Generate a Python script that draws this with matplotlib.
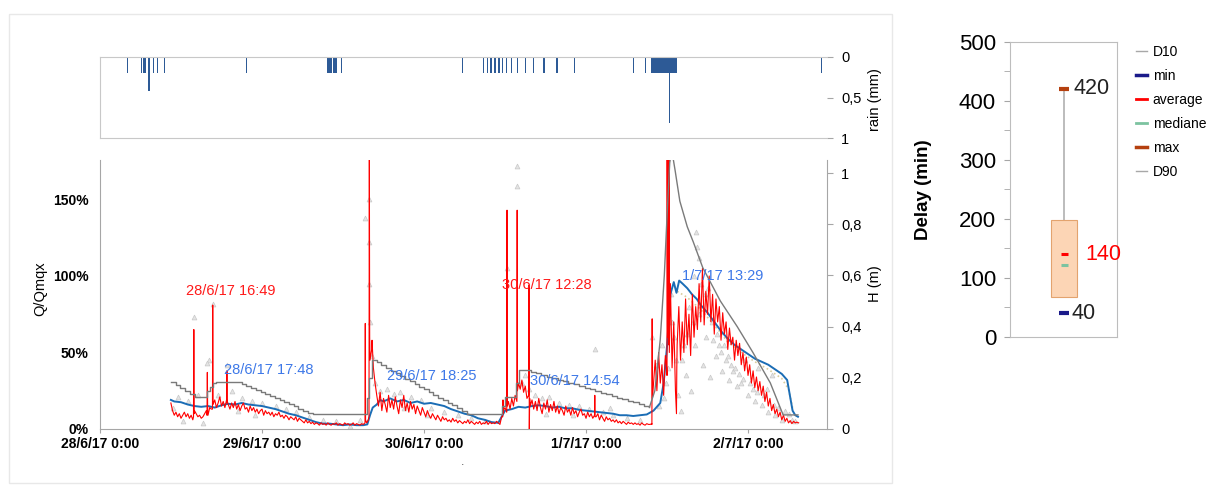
import matplotlib
matplotlib.use('Agg')
import matplotlib.pyplot as plt
import numpy as np
from matplotlib.lines import Line2D
from matplotlib.patches import Rectangle

plt.rcParams['font.family'] = ['Liberation Sans', 'DejaVu Sans']

# ---------------- DATA (time in hours from 28/6/17 0:00) ----------------
day_ticks = [0, 24, 48, 72, 96]
day_labels = ['28/6/17 0:00', '29/6/17 0:00', '30/6/17 0:00', '1/7/17 0:00', '2/7/17 0:00']

# rain (mm)
rain_t = [4.04, 6.18, 6.41, 6.67, 7.26, 7.9, 8.55, 9.59, 21.73, 33.8, 34.05, 34.3, 34.55, 34.8,
          35.05, 35.8, 53.67, 56.79, 57.38, 57.93, 58.52, 59.11, 59.66, 60.19, 60.99, 61.82, 63.07,
          64.19, 65.78, 67.7, 70.27, 79.0, 80.84, 81.8, 82.0, 82.2, 82.4, 82.6, 82.8, 83.0, 83.2,
          83.4, 83.6, 83.8, 84.0, 84.2, 84.34, 84.6, 84.8, 85.0, 85.2, 85.4, 106.9]
rain_v = [0.2, 0.2, 0.2, 0.2, 0.42, 0.2, 0.2, 0.2, 0.2, 0.2, 0.2, 0.2, 0.2, 0.2,
          0.2, 0.2, 0.2, 0.2, 0.2, 0.2, 0.2, 0.2, 0.2, 0.2, 0.2, 0.2, 0.2,
          0.2, 0.2, 0.2, 0.2, 0.2, 0.2, 0.2, 0.2, 0.2, 0.2, 0.2, 0.2, 0.2, 0.2,
          0.2, 0.2, 0.2, 0.2, 0.2, 0.82, 0.2, 0.2, 0.2, 0.2, 0.2, 0.2]

# red Q/Qmqx (%) on a quarter-hour grid from 10.5 h to 103.5 h
red_start, red_step = 10.5, 0.25
red_base = [17, 12, 9, 11, 8, 10, 7, 9, 11, 8, 10, 7,
            9, 6, 12, 10, 8, 9, 7, 8, 10, 12, 9, 14,
            13, 16, 19, 14, 17, 21, 15, 18, 14, 19, 16, 13,
            17, 14, 18, 13, 16, 12, 15, 17, 13, 14, 11, 15,
            12, 14, 11, 13, 10, 12, 13, 9, 12, 10, 11, 9,
            11, 8, 10, 9, 11, 8, 9, 7, 9, 8, 6, 8,
            7, 6, 8, 5, 7, 6, 5, 4, 6, 4, 5, 3.5,
            4.5, 3, 4, 3.5, 2.5, 4, 3, 3.5, 2.5, 4, 3, 2.5,
            3.5, 3, 4, 2.5, 3.5, 3, 2.5, 4, 3, 3.5, 2.5, 3,
            4, 2.5, 3.5, 3, 2.5, 3.5, 3, 4, 4, 6, 45, 52,
            40, 30, 22, 15, 24, 12, 20, 16, 11, 22, 14, 19,
            13, 21, 15, 10, 19, 14, 22, 12, 17, 11, 18, 13,
            16, 10, 15, 12, 9, 14, 11, 8, 12, 9, 7, 10,
            8, 6, 9, 7, 5, 8, 6, 7, 5, 6, 4.5, 7,
            5, 6, 4, 5.5, 4.5, 3.5, 5, 4, 6, 3.5, 5, 4,
            3, 4.5, 3.5, 5, 3, 4, 3.5, 5, 3, 4.5, 3.5, 4,
            3.5, 5, 4, 3, 8, 12, 14, 11, 18, 13, 20, 15,
            22, 18, 30, 26, 32, 24, 28, 20, 22, 15, 19, 13,
            18, 12, 20, 14, 10, 17, 13, 19, 11, 16, 12, 18,
            11, 15, 10, 14, 12, 9, 15, 11, 13, 9, 14, 10,
            12, 8, 11, 13, 9, 10, 7, 11, 8, 10, 7, 9,
            8, 10, 6, 9, 7, 5, 8, 6, 7, 5, 6, 4.5,
            6, 4, 5, 3.5, 5, 4, 3, 4.5, 3.5, 4, 3, 4,
            3, 3.5, 2.5, 4, 3, 2.5, 3.5, 3, 3, 3.5, 30, 45,
            25, 50, 30, 42, 22, 48, 35, 60, 95, 40, 70, 25,
            55, 80, 45, 70, 50, 85, 55, 75, 48, 88, 60, 80,
            65, 95, 70, 105, 68, 90, 75, 100, 70, 88, 62, 85,
            70, 80, 58, 76, 62, 70, 52, 66, 55, 60, 45, 58,
            48, 56, 42, 50, 38, 47, 35, 42, 30, 38, 27, 34,
            25, 31, 22, 28, 18, 24, 15, 20, 12, 16, 10, 13,
            8, 11, 6, 9, 5, 7, 4, 5.5, 3.5, 5, 4, 4.5,
            4]
# red narrow peaks
red_spike_t = [13.85, 13.9, 13.95, 15.85, 15.9, 15.95, 16.66, 16.7, 16.74, 18.76, 18.8, 18.84,
               39.26, 39.3, 39.34, 39.85, 39.9, 39.95, 40.3, 59.66, 59.7, 59.74, 60.26, 60.3, 60.34,
               61.76, 61.8, 61.84, 63.55, 63.6, 63.65, 73.26, 73.3, 73.34, 81.76, 81.8, 81.84,
               83.95, 84.02, 84.08, 84.26, 84.3, 84.34, 85.4, 85.45]
red_spike_v = [8, 65, 10, 9, 37, 12, 13, 81, 16, 17, 38, 18,
               4, 69, 6, 8, 185, 60, 58, 8, 19, 10, 12, 143, 15,
               18, 143, 25, 94, 0, 20, 9, 22, 8, 3, 72, 20,
               40, 185, 60, 55, 185, 50, 10, 40]

# blue Q/Qmqx (%)
blue_t = [10.5, 11, 12, 13, 14, 15, 16, 17, 18, 19, 20, 21, 22, 23, 24, 25, 26, 27, 28, 29, 30, 31,
          32, 33, 34, 35, 36, 37, 38, 39, 39.6, 40, 40.4, 41, 41.5, 42, 43, 44, 45, 46, 47, 48, 49,
          50, 51, 52, 53, 54, 55, 56, 57, 58, 59, 59.5, 60, 61, 62, 63, 64, 65, 66, 67, 68, 69, 70,
          71, 72, 73, 74, 75, 76, 77, 78, 79, 80, 81, 82, 83, 83.5, 84, 84.5, 85, 85.4, 85.8, 86.3,
          87, 87.7, 88.4, 89, 90, 91, 92, 93, 94, 95, 96, 97, 98, 99, 100, 101, 101.8, 102.2,
          102.6, 103, 103.4]
blue_v = [19, 18, 17.5, 16, 15, 14.5, 15, 14, 15.5, 16.5, 16, 17, 16, 15.5, 15, 14, 13, 11.5, 10, 9,
          7.5, 6, 4.5, 3.5, 3.5, 3, 2.5, 3, 2.5, 2.5, 3, 9, 14, 16, 19, 18, 20, 18, 19, 17, 18,
          16.5, 17, 16, 15, 13, 11.5, 10, 9, 7, 6, 4.5, 4, 8, 12, 13, 14.5, 14, 15, 15.5, 15, 14,
          14.5, 13.5, 13.5, 12.5, 12, 11.5, 11, 10.5, 10, 9, 9, 8.5, 9, 9.5, 12, 17, 30, 54, 88,
          96, 89, 97, 95, 92, 88, 85, 81, 76, 70, 64, 59, 55, 52, 49, 46, 44, 42, 39, 36, 32, 22,
          12, 9, 8]

# beige dotted series (%)
tan_t = [85.5, 87, 89, 91, 93, 95, 97, 99, 101, 102, 102.6]
tan_v = [90, 86, 78, 68, 57, 50, 44, 39, 33, 26, 14]

# gray water level H (m): staircase part, then continuous part
gray_step_t = [10.5, 11.2, 11.9, 12.6, 13.3, 14.0, 15.8, 16.3, 16.8, 17.2,
               21.0, 21.7, 22.4, 23.1, 23.8, 24.5, 25.2, 25.9, 26.6, 27.3, 28.0, 28.7, 29.4, 30.1,
               30.8, 31.5, 39.5, 39.8, 40.3,
               41.0, 41.7, 42.4, 43.1, 43.8, 44.5, 45.2, 45.9, 46.6, 47.3, 48.0, 48.7, 49.4, 50.1,
               50.8, 51.5, 52.2, 52.9, 53.6, 54.3, 59.6, 60.0, 61.6, 62.1,
               63.8, 64.6, 65.4, 66.2, 67.0, 67.8, 68.6, 69.4, 70.2, 71.0, 71.8, 72.6, 73.4, 74.2,
               75.0, 75.8, 76.6, 77.4, 78.2, 79.0, 79.8, 80.6, 81.4]
gray_step_v = [0.185, 0.173, 0.161, 0.149, 0.137, 0.126, 0.15, 0.165, 0.178, 0.185,
               0.176, 0.168, 0.160, 0.152, 0.144, 0.136, 0.128, 0.120, 0.112, 0.104, 0.096, 0.088,
               0.080, 0.072, 0.064, 0.06, 0.12, 0.2, 0.27,
               0.26, 0.249, 0.239, 0.228, 0.218, 0.207, 0.197, 0.186, 0.176, 0.165, 0.155, 0.144,
               0.134, 0.123, 0.113, 0.102, 0.092, 0.081, 0.071, 0.06, 0.09, 0.125, 0.18, 0.23,
               0.224, 0.218, 0.212, 0.205, 0.199, 0.193, 0.186, 0.18, 0.174, 0.167, 0.161, 0.155,
               0.148, 0.142, 0.136, 0.129, 0.123, 0.117, 0.11, 0.104, 0.098, 0.091, 0.085]
gray_flood_t = [81.4, 82.2, 83.0, 83.6, 84.0, 84.4, 84.7, 85.2, 85.9, 87.0, 87.9, 89.3, 91.9, 94.4,
                96.7, 99.3, 101.2, 103.4]
gray_flood_v = [0.085, 0.15, 0.35, 0.6, 0.83, 1.04, 1.09, 1.01, 0.89, 0.79, 0.73, 0.63, 0.5, 0.4,
                0.3, 0.18, 0.055, 0.055]

# gray triangle measurements (%)
scat_t = [10.8, 11.5, 12.3, 13.0, 14.5, 15.2, 16.2, 16.7, 13.9, 15.9, 18.8, 17.5, 19.5, 21, 22.5, 24,
          26, 27.5, 29, 31, 33, 35, 37, 38.5, 39.2, 39.9, 39.9, 39.9, 39.95, 40.3, 40.8, 41.5, 42.5,
          43.5, 44.5, 46, 47.5, 49, 51, 53, 55, 57, 61.8, 61.8, 60.3, 62.5, 63.5, 64.5, 65.5, 66.5,
          68, 69.5, 71, 72.5, 73.3, 74.5, 76, 78, 80, 81.8, 82.4, 83.2, 83.8, 84.6, 85.1, 85.6,
          86.2, 86.8, 87.3, 88.3, 88.4, 88.7, 88.0, 89.1, 89.6, 90.1, 90.6, 91.2, 91.7, 92.2, 92.7,
          93.2, 93.8, 94.3, 95, 96, 97, 98, 99, 100, 101, 102, 89.3, 90.3, 86.0, 87.6, 95.5, 97.5,
          99.5, 84.8, 85.3, 86.5, 87.0, 87.8, 88.2, 88.8, 89.8, 90.8, 91.4, 92.0, 92.5, 93.0, 93.5,
          94.0, 94.7, 95.3, 96.3, 96.8, 97.3, 98.3, 98.8, 99.8, 100.5, 101.5, 102.5, 103.0, 84.2,
          83.6, 82.8, 20.5, 23, 45, 48.5, 63, 66, 70, 75.5]
scat_v = [14, 21, 5, 18, 22, 4, 45, 82, 73, 43, 42, 22, 25, 20, 18, 17,
          15, 13, 11, 8, 6, 5, 2, 6, 138, 150, 122, 95, 70, 48, 30, 25, 26,
          23, 24, 21, 19, 14, 11, 9, 7, 5, 172, 159, 105, 30, 26, 22, 20, 21,
          17, 16, 15, 13, 52, 11, 9, 7, 6, 60, 42, 55, 30, 88, 60, 22,
          45, 35, 80, 129, 119, 112, 100, 95, 88, 92, 70, 48, 55, 38, 45,
          32, 38, 28, 30, 22, 18, 16, 11, 9, 6, 10, 42, 34, 12, 25, 45, 40,
          35, 70, 45, 55, 62, 70, 55, 75, 60, 58, 62, 50, 55, 48, 42,
          40, 36, 33, 30, 26, 24, 22, 26, 16, 14, 12, 6, 5, 40,
          20, 15, 12, 9, 14, 9, 35, 10, 9, 14]

# annotations: text, hour, %, colour key
ann_text = ['28/6/17 16:49', '28/6/17 17:48', '29/6/17 18:25', '30/6/17 12:28', '30/6/17 14:54',
            '1/7/17 13:29']
ann_t = [12.74, 18.37, 42.5, 59.6, 63.7, 86.2]
ann_v = [90.2, 38.6, 34.6, 94.1, 31.4, 100.0]
ann_kind = ['red', 'blue', 'blue', 'red', 'blue', 'blue']

# delay statistics (min)
d10, d90 = 67, 197
d_min, d_max, d_avg, d_med = 40, 420, 140, 121

# ---------------- FIGURE ----------------
W, H = 1209, 487
fig = plt.figure(figsize=(W / 100, H / 100), dpi=100)


def fx(px):
    return px / W


def fy(py):
    return 1 - py / H


# panel border
fig.patches.append(Rectangle((fx(9), fy(483)), fx(892) - fx(9), fy(14) - fy(483),
                             transform=fig.transFigure, fill=False, edgecolor='#e8e8e8', lw=1))

ax = fig.add_axes([fx(100), fy(429), fx(827) - fx(100), fy(160) - fy(429)])
axr = ax.twinx()
axrain = fig.add_axes([fx(100), fy(138), fx(827) - fx(100), fy(57) - fy(138)])
axb = fig.add_axes([fx(1010), fy(336.7), fx(1117) - fx(1010), fy(41.7) - fy(336.7)])

xmax = 107.7
spine_c = '#a6a6a6'

# rain
axrain.bar(rain_t, rain_v, width=0.2, color='#2d5a96', align='center', linewidth=0)
axrain.set_xlim(0, xmax)
axrain.set_ylim(1, 0)
axrain.set_xticks([])
axrain.yaxis.tick_right()
axrain.set_yticks([0, 0.5, 1])
axrain.set_yticklabels(['0', '0,5', '1'], fontsize=10.5)
axrain.tick_params(axis='y', length=4, color=spine_c, pad=6)
axrain.yaxis.set_label_position('right')
axrain.set_ylabel('rain (mm)', fontsize=10.5)
axrain.yaxis.set_label_coords(1.056, 0.47)
for s in ['left', 'top', 'bottom']:
    axrain.spines[s].set_color('#c8c8c8')
axrain.spines['right'].set_visible(False)

# main
red_t = np.concatenate([red_start + red_step * np.arange(len(red_base)), red_spike_t])
red_v = np.concatenate([red_base, red_spike_v])
order = np.argsort(red_t, kind='stable')

ax.plot(scat_t, scat_v, linestyle='none', marker='^', ms=3.5, mfc='#e4e4e4', mec='#c8c8c8',
        mew=0.5, zorder=1)
ax.plot(tan_t, tan_v, color='#d8cc9c', lw=1.2, ls=':', zorder=2)
ax.plot(blue_t, blue_v, color='#1b6db5', lw=1.4, zorder=3)
ax.plot(red_t[order], red_v[order], color='#ff0000', lw=0.8, zorder=4)

ax.set_xlim(0, xmax)
ax.set_ylim(0, 175.8)
ax.set_xticks(day_ticks)
ax.set_xticklabels(day_labels, fontsize=10, fontweight='bold')
ax.set_yticks([0, 50, 100, 150])
ax.set_yticklabels(['0%', '50%', '100%', '150%'], fontsize=10, fontweight='bold')
ax.tick_params(axis='x', length=3, color=spine_c, pad=3)
ax.tick_params(axis='y', length=0, pad=8)
ax.set_ylabel('Q/Qmqx', fontsize=10.5)
ax.yaxis.set_label_coords(-0.073, 0.52)
ax.spines['top'].set_visible(False)
ax.spines['right'].set_visible(False)
ax.spines['left'].set_color(spine_c)
ax.spines['bottom'].set_color(spine_c)

axr.plot(gray_step_t, gray_step_v, color='#7a7a7a', lw=1.0, drawstyle='steps-post', zorder=5)
axr.plot(gray_flood_t, gray_flood_v, color='#7a7a7a', lw=1.0, zorder=5)
axr.set_ylim(0, 1.0508)
axr.set_yticks([0, 0.2, 0.4, 0.6, 0.8, 1.0])
axr.set_yticklabels(['0', '0,2', '0,4', '0,6', '0,8', '1'], fontsize=10.5)
axr.tick_params(axis='y', length=4, color=spine_c, pad=6)
axr.set_ylabel('H (m)', fontsize=10.5)
axr.yaxis.set_label_coords(1.056, 0.54)
axr.spines['top'].set_visible(False)
axr.spines['left'].set_visible(False)
axr.spines['bottom'].set_visible(False)
axr.spines['right'].set_color(spine_c)

ann_col = {'red': '#ff1a1a', 'blue': '#3d78e8'}
for txt, t, v, k in zip(ann_text, ann_t, ann_v, ann_kind):
    axr.text(t, v * 1.0508 / 175.8, txt, color=ann_col[k], fontsize=10.5, ha='left', va='center',
             zorder=10)

fig.text(fx(463), fy(462), '.', fontsize=9, ha='center', va='center', color='#555555')

# box panel
cx = 0.505
axb.bar([cx], [d90 - d10], bottom=[d10], width=0.245, color='#fcd5b5', edgecolor='#e3a36e',
        linewidth=0.8, zorder=2)
axb.plot([cx, cx], [d90, d_max], color='#b0b0b0', lw=1.2, zorder=1)
axb.plot([cx - 0.05, cx + 0.05], [d_max, d_max], color='#b5400f', lw=3, solid_capstyle='butt', zorder=3)
axb.plot([cx - 0.05, cx + 0.05], [d_min, d_min], color='#1a1a8a', lw=3, solid_capstyle='butt', zorder=3)
axb.plot([cx - 0.033, cx + 0.033], [d_avg, d_avg], color='#ff0000', lw=2.2, solid_capstyle='butt', zorder=3)
axb.plot([cx - 0.033, cx + 0.033], [d_med, d_med], color='#7cc3a0', lw=2.2, solid_capstyle='butt', zorder=3)
axb.text(cx + 0.09, d_max, str(d_max), fontsize=15.5, va='center', ha='left', color='#222222')
axb.text(cx + 0.07, d_min, str(d_min), fontsize=15.5, va='center', ha='left', color='#222222')
axb.text(cx + 0.2, d_avg, str(d_avg), fontsize=15.5, va='center', ha='left', color='#ff0000')
axb.set_xlim(0, 1)
axb.set_ylim(0, 500)
axb.set_xticks([])
axb.set_yticks([0, 100, 200, 300, 400, 500])
axb.set_yticks([50, 150, 250, 350, 450], minor=True)
axb.tick_params(axis='y', which='both', length=4, color=spine_c, labelsize=16, pad=6)
axb.set_ylabel('Delay (min)', fontsize=13.5, fontweight='bold')
axb.yaxis.set_label_coords(-0.73, 0.5)
for s in axb.spines.values():
    s.set_color('#bdbdbd')

handles = [Line2D([], [], color='#a8a8a8', lw=1),
           Line2D([], [], color='#1a1a8a', lw=2.5),
           Line2D([], [], color='#ff0000', lw=2.0),
           Line2D([], [], color='#7cc3a0', lw=2.0),
           Line2D([], [], color='#b5400f', lw=2.5),
           Line2D([], [], color='#a8a8a8', lw=1)]
labels = ['D10', 'min', 'average', 'mediane', 'max', 'D90']
fig.legend(handles, labels, loc='upper left', bbox_to_anchor=(fx(1136), fy(45)), frameon=False,
           fontsize=10, handlelength=0.8, handletextpad=0.4, labelspacing=0.72, borderaxespad=0,
           borderpad=0)

fig.savefig('out.png', dpi=100)
